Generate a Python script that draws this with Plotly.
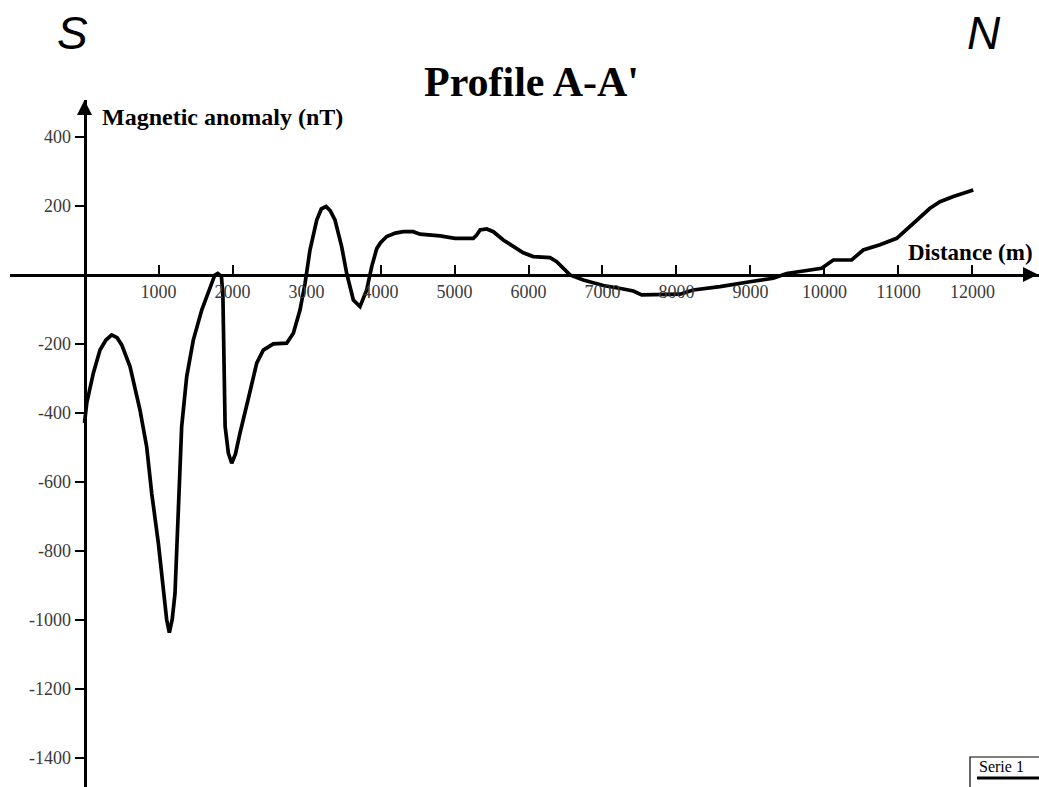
import plotly.graph_objects as go

# ---- data ----
distance_m = [0, 30, 119, 209, 290, 367, 440, 503, 615, 700, 750, 840, 908, 998, 1065,
              1110, 1146, 1185, 1223, 1268, 1313, 1381, 1470, 1584, 1696, 1760, 1800,
              1850, 1870, 1880, 1890, 1900, 1944, 1989, 2040, 2101, 2236, 2327, 2416,
              2551, 2732, 2822, 2912, 2980, 3047, 3138, 3200, 3264, 3320, 3385, 3475,
              3543, 3633, 3723, 3813, 3881, 3949, 4000, 4084, 4200, 4308, 4443, 4534,
              4804, 5007, 5254, 5299, 5345, 5435, 5525, 5659, 5795, 5930, 6065, 6291,
              6381, 6470, 6561, 6741, 7011, 7281, 7416, 7530, 7732, 8047, 8227, 8588,
              8993, 9308, 9489, 9759, 9962, 10119, 10367, 10524, 10750, 10976, 11200,
              11426, 11561, 11741, 12011]
anomaly_nT = [-430, -373, -286, -219, -190, -175, -183, -204, -267, -340, -393, -499, -634,
              -779, -924, -1000, -1038, -1000, -924, -683, -441, -296, -190, -103, -35, -2,
              3, -5, -60, -200, -350, -440, -518, -547, -520, -460, -340, -257, -219, -201,
              -199, -170, -103, -26, 71, 158, 190, 197, 185, 158, 81, 3, -74, -93, -45, 23,
              75, 92, 110, 120, 124, 124, 117, 112, 105, 105, 114, 129, 132, 124, 100, 81,
              63, 52, 49, 37, 18, -1, -16, -32, -42, -48, -59, -59, -57, -45, -35, -21, -11,
              3, 11, 18, 42, 42, 71, 86, 105, 148, 192, 211, 226, 245]

x_tick_vals = [1000, 2000, 3000, 4000, 5000, 6000, 7000, 8000, 9000, 10000, 11000, 12000]
x_tick_text = [str(v) for v in x_tick_vals]
y_tick_vals = [400, 200, -200, -400, -600, -800, -1000, -1200, -1400]
y_tick_text = [str(v) for v in y_tick_vals]

title_text = "<b>Profile A-A'</b>"
y_title = "<b>Magnetic anomaly (nT)</b>"
x_title = "<b>Distance (m)</b>"
legend_text = "Serie 1"

# ---- layout geometry ----
W, H = 1039, 787
M_L, M_R, M_T, M_B = 10, 0, 100, 0
X_RANGE = [-1007, 12899]
Y_RANGE = [-1485.5, 505.8]
PW, PH = W - M_L - M_R, H - M_T - M_B


def px(x):
    return (x - M_L) / PW


def py(y):
    return (H - M_B - y) / PH


x_axis_pos = (0 - Y_RANGE[0]) / (Y_RANGE[1] - Y_RANGE[0])
y_axis_pos = (0 - X_RANGE[0]) / (X_RANGE[1] - X_RANGE[0])

SERIF = "Liberation Serif, Times New Roman, serif"
SANS = "Liberation Sans, Arial, sans-serif"
TICKFONT = dict(family=SERIF, size=18, color="#3a3a3a")

fig = go.Figure()
fig.add_trace(go.Scatter(
    x=distance_m, y=anomaly_nT, mode="lines",
    line=dict(color="black", width=3.7), showlegend=False, hoverinfo="skip",
))

fig.update_layout(
    width=W, height=H,
    margin=dict(l=M_L, r=M_R, t=M_T, b=M_B, pad=0),
    paper_bgcolor="white", plot_bgcolor="white",
    showlegend=False,
    xaxis=dict(
        range=X_RANGE, anchor="free", position=x_axis_pos,
        showgrid=False, zeroline=False,
        showline=True, linecolor="black", linewidth=3,
        ticks="inside", ticklen=9, tickwidth=1.5, tickcolor="black",
        tickmode="array", tickvals=x_tick_vals, ticktext=x_tick_text,
        tickfont=TICKFONT,
    ),
    yaxis=dict(
        range=Y_RANGE, anchor="free", position=y_axis_pos,
        showgrid=False, zeroline=False,
        showline=True, linecolor="black", linewidth=3,
        ticks="outside", ticklen=9, tickwidth=1.5, tickcolor="black",
        tickmode="array", tickvals=y_tick_vals, ticktext=y_tick_text,
        tickfont=TICKFONT,
    ),
    yaxis2=dict(
        range=Y_RANGE, overlaying="y", anchor="free", position=y_axis_pos,
        showgrid=False, zeroline=False, showline=False,
        ticks="inside", ticklen=9, tickwidth=1.5, tickcolor="black",
        tickmode="array", tickvals=y_tick_vals, showticklabels=False,
    ),
)

annotations = [
    dict(text="<i>S</i>", x=px(72), y=py(33), xref="paper", yref="paper",
         showarrow=False, font=dict(family=SANS, size=46, color="black"),
         xanchor="center", yanchor="middle"),
    dict(text="<i>N</i>", x=px(984), y=py(33), xref="paper", yref="paper",
         showarrow=False, font=dict(family=SANS, size=46, color="black"),
         xanchor="center", yanchor="middle"),
    dict(text=title_text, x=px(531), y=py(82), xref="paper", yref="paper",
         showarrow=False, font=dict(family=SERIF, size=42, color="black"),
         xanchor="center", yanchor="middle"),
    dict(text=y_title, x=px(100), y=py(117), xref="paper", yref="paper",
         showarrow=False, font=dict(family=SERIF, size=24, color="black"),
         xanchor="left", yanchor="middle"),
    dict(text=x_title, x=px(1035), y=py(252), xref="paper", yref="paper",
         showarrow=False, font=dict(family=SERIF, size=23, color="black"),
         xanchor="right", yanchor="middle"),
    # axis arrowheads
    dict(text="", x=0, y=1, xref="x", yref="paper", ax=0, ay=14,
         showarrow=True, arrowhead=2, arrowsize=1, arrowwidth=3, arrowcolor="black",
         standoff=0),
    dict(text="", x=1, y=0, xref="paper", yref="y", ax=-14, ay=0,
         showarrow=True, arrowhead=2, arrowsize=1, arrowwidth=3, arrowcolor="black",
         standoff=0),
    dict(text=legend_text, x=px(977), y=py(766), xref="paper", yref="paper",
         showarrow=False, font=dict(family=SERIF, size=16, color="black"),
         xanchor="left", yanchor="middle"),
]
fig.update_layout(annotations=annotations)

fig.add_shape(type="rect", xref="paper", yref="paper",
              x0=px(970), x1=px(1050), y0=py(795), y1=py(757),
              line=dict(color="black", width=1.2), fillcolor="rgba(0,0,0,0)")
fig.add_shape(type="line", xref="paper", yref="paper",
              x0=px(977), x1=px(1050), y0=py(778), y1=py(778),
              line=dict(color="black", width=3))

fig.write_html("out.html", config={"displayModeBar": False},
               post_script="document.body.style.margin='0';document.body.style.overflow='hidden';")
